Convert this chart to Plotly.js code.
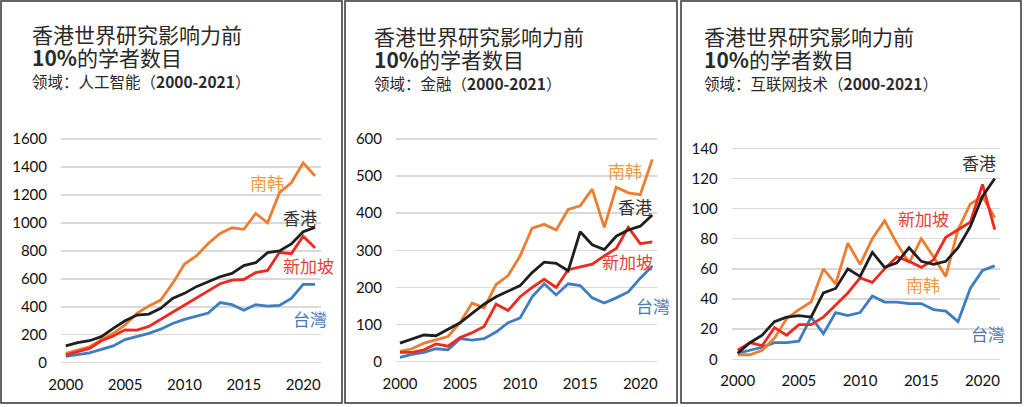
<!DOCTYPE html>
<html>
<head>
<meta charset="utf-8">
<script src="https://cdn.plot.ly/plotly-3.0.1.min.js"></script>
<style>
  html, body { margin: 0; padding: 0; background: #fff; }
  #chart { width: 1024px; height: 407px; }
</style>
</head>
<body>
<div id="chart"></div>
<script>
// 年份
const years = [2000, 2001, 2002, 2003, 2004, 2005, 2006, 2007, 2008, 2009, 2010,
               2011, 2012, 2013, 2014, 2015, 2016, 2017, 2018, 2019, 2020, 2021];

// 人工智能
const aiKorea     = [67, 90, 114, 162, 210, 270, 353, 405, 448, 567, 706, 763, 853, 925, 965, 954, 1068, 1001, 1216, 1287, 1430, 1335];
const aiHongKong  = [120, 143, 157, 186, 245, 300, 341, 348, 389, 460, 496, 544, 579, 615, 639, 694, 715, 787, 799, 849, 937, 968];
const aiSingapore = [55, 79, 102, 157, 191, 235, 233, 260, 310, 360, 415, 460, 515, 565, 590, 595, 645, 660, 790, 780, 905, 820];
const aiTaiwan    = [45, 60, 70, 95, 120, 165, 185, 210, 240, 280, 310, 330, 355, 430, 415, 375, 415, 405, 410, 460, 560, 560];

// 金融
const finKorea     = [28, 35, 50, 58, 68, 105, 158, 145, 208, 232, 285, 360, 370, 355, 410, 420, 465, 362, 470, 455, 450, 545];
const finHongKong  = [50, 60, 72, 70, 88, 105, 130, 155, 175, 190, 205, 240, 268, 265, 245, 350, 315, 302, 338, 355, 365, 395];
const finSingapore = [25, 25, 32, 48, 42, 65, 78, 95, 155, 138, 175, 200, 222, 200, 248, 255, 263, 285, 305, 362, 318, 323];
const finTaiwan    = [12, 20, 25, 35, 32, 62, 58, 62, 80, 105, 118, 175, 210, 180, 210, 205, 172, 158, 172, 188, 225, 258];

// 互联网技术
const netHongKong  = [4, 11, 16, 25, 28, 29, 28, 44, 47, 60, 55, 71, 61, 64, 74, 65, 63, 65, 74, 88, 108, 120];
const netSingapore = [6, 11, 9, 21, 16, 23, 23, 28, 36, 44, 54, 51, 60, 68, 65, 61, 66, 81, 86, 91, 116, 86];
const netKorea     = [3, 3, 6, 14, 27, 33, 38, 60, 50, 77, 63, 80, 92, 77, 64, 80, 68, 55, 86, 103, 108, 94];
const netTaiwan    = [4, 6, 8, 11, 11, 12, 28, 17, 31, 29, 31, 42, 38, 38, 37, 37, 33, 32, 25, 47, 59, 62];

const panelFields = ['人工智能', '金融', '互联网技术'];

const orange = '#ED7D31', black = '#1f1f1f', red = '#EE2A1E', blue = '#3D7DC0';

function line(y, color, n) {
  const s = n === 1 ? '' : String(n);
  return { x: years, y: y, xaxis: 'x' + s, yaxis: 'y' + s, type: 'scatter', mode: 'lines',
           line: { color: color, width: 2.8 }, hoverinfo: 'skip' };
}

const data = [
  line(aiTaiwan, blue, 1), line(aiKorea, orange, 1), line(aiSingapore, red, 1), line(aiHongKong, black, 1),
  line(finTaiwan, blue, 2), line(finKorea, orange, 2), line(finSingapore, red, 2), line(finHongKong, black, 2),
  line(netTaiwan, blue, 3), line(netKorea, orange, 3), line(netSingapore, red, 3), line(netHongKong, black, 3)
];

const W = 1024, H = 407;
const px = v => v / W;
const py = v => 1 - v / H;

const tickFont = { family: 'Lato, "Open Sans", sans-serif', size: 15, color: '#111' };

function xAxis(dom, range, anchor) {
  return { domain: [px(dom[0]), px(dom[1])], range: range, anchor: anchor,
           tickvals: [2000, 2005, 2010, 2015, 2020], showgrid: false, zeroline: false,
           showline: false, ticks: '', tickfont: tickFont, ticklabelstandoff: 9, fixedrange: true };
}
function yAxis(dom, range, dtick, anchor) {
  return { domain: [py(dom[0]), py(dom[1])], range: range, anchor: anchor, dtick: dtick,
           showgrid: true, gridcolor: '#d9d9d9', gridwidth: 1.5, zeroline: false,
           showline: false, ticks: '', tickfont: tickFont, ticklabelstandoff: 13, fixedrange: true };
}

const cjk = '"Noto Sans CJK SC", "Noto Sans", sans-serif';
const annotations = [];
const titleX = [30, 372, 702];
const titleY = [34, 36, 36];
panelFields.forEach((f, i) => {
  const t = (text, dy, size) => annotations.push({ xref: 'paper', yref: 'paper',
    x: px(titleX[i]), y: py(titleY[i] + dy), xanchor: 'left', yanchor: 'middle', showarrow: false,
    text: text, font: { family: cjk, size: size, color: '#2a2a2a' } });
  t('香港世界研究影响力前', 0, 21);
  t('<b>10%</b>的学者数目', 23, 21);
  t('领域：' + f + '（<b>2000-2021</b>）', 47, 15.5);
});

function label(text, x, y, color) {
  annotations.push({ xref: 'paper', yref: 'paper', x: px(x), y: py(y), xanchor: 'center', yanchor: 'middle',
    showarrow: false, text: text, font: { family: cjk, size: 17, color: color } });
}
const orangeLbl = '#F09A45', blackLbl = '#333333', redLbl = '#E8403A', blueLbl = '#4A78BA';
label('南韩', 267, 182, orangeLbl); label('香港', 300, 217, blackLbl);
label('新加坡', 308, 265, redLbl); label('台灣', 310, 318, blueLbl);
label('南韩', 625, 170, orangeLbl); label('香港', 635, 206, blackLbl);
label('新加坡', 627, 261, redLbl); label('台灣', 653, 305, blueLbl);
label('香港', 979, 163, blackLbl); label('新加坡', 923, 219, redLbl);
label('南韩', 923, 284, orangeLbl); label('台灣', 988, 333, blueLbl);

function box(x0, x1) {
  return { type: 'rect', xref: 'paper', yref: 'paper', x0: px(x0), x1: px(x1), y0: py(403), y1: py(1),
           line: { color: '#333', width: 1.5 }, fillcolor: 'rgba(0,0,0,0)' };
}

const layout = {
  width: W, height: H, margin: { l: 0, r: 0, t: 0, b: 0 },
  paper_bgcolor: '#fff', plot_bgcolor: '#fff', showlegend: false,
  xaxis:  xAxis([61, 321], [1999.6, 2021.5], 'y'),
  yaxis:  yAxis([364.8, 136.9], [-15, 1615], 200, 'x'),
  xaxis2: xAxis([396, 657], [1999.67, 2021.39], 'y2'),
  yaxis2: yAxis([363.6, 137.1], [-5, 605], 100, 'x2'),
  xaxis3: xAxis([731.7, 1000], [1999.51, 2021.43], 'y3'),
  yaxis3: yAxis([360.8, 146.8], [-1, 141], 20, 'x3'),
  annotations: annotations,
  shapes: [box(1, 342), box(345, 677), box(681, 1021)]
};

Plotly.newPlot('chart', data, layout, { staticPlot: true, displayModeBar: false });
</script>
</body>
</html>
